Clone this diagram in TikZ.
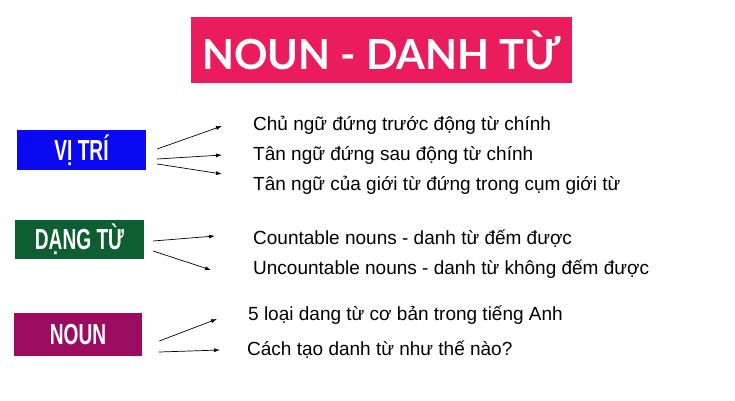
\documentclass[tikz,border=0pt]{standalone}
\usepackage{fontspec}
\setmainfont{Liberation Sans}
\newfontfamily\titlefont{Lato}
\newfontfamily\boxfont{Liberation Sans}
\usetikzlibrary{arrows.meta,calc}
\definecolor{titlepink}{HTML}{EB1C5E}
\definecolor{vtblue}{HTML}{0A0AF2}
\definecolor{dtgreen}{HTML}{0D5E30}
\definecolor{nounmag}{HTML}{9B0C60}
\begin{document}
\begin{tikzpicture}[x=1pt,y=-1pt,
  catbox/.style={draw=none,minimum width=129pt,minimum height=40pt,inner sep=0pt,text=white,
    font=\boxfont\bfseries\fontsize{29}{29}\selectfont},
  item/.style={anchor=west,inner sep=0pt,font=\fontsize{19}{20}\selectfont,text=black},
  arr/.style={-{Latex[length=6pt,width=4pt]},line width=0.7pt,black}]
\useasboundingbox[fill=white] (0,0) rectangle (735,400);
% title
\node[fill=titlepink,minimum width=381pt,minimum height=66pt,inner sep=0pt,text=white,
  font=\titlefont\bfseries\fontsize{41.5}{42}\selectfont] (title) at (381.5,50) {NOUN - DANH TỪ};
% category boxes
\node[catbox,fill=vtblue] (vitri) at (81.5,150) {\scalebox{0.66}[1]{VỊ TRÍ}};
\node[catbox,fill=dtgreen,minimum height=39pt] (dangtu) at (79.5,239.5) {\scalebox{0.66}[1]{DẠNG TỪ}};
\node[catbox,fill=nounmag,minimum width=128pt,minimum height=43pt] (noun) at (78,334.5) {\scalebox{0.66}[1]{NOUN}};
% items
\node[item] (t1) at (253,125) {Chủ ngữ đứng trước động từ chính};
\node[item] (t2) at (253,155) {Tân ngữ đứng sau động từ chính};
\node[item] (t3) at (253,185) {Tân ngữ của giới từ đứng trong cụm giới từ};
\node[item] (t4) at (253,239) {Countable nouns - danh từ đếm được};
\node[item] (t5) at (253,269) {Uncountable nouns - danh từ không đếm được};
\node[item] (t6) at (248,315) {5 loại dang từ cơ bản trong tiếng Anh};
\node[item] (t7) at (247,350) {Cách tạo danh từ như thế nào?};
% arrows
\draw[arr] ([shift={(11,-1)}]vitri.east) -- ([shift={(-31,1)}]t1.west);
\draw[arr] ([shift={(11,9)}]vitri.east) -- ([shift={(-31,0)}]t2.west);
\draw[arr] ([shift={(11,14)}]vitri.east) -- ([shift={(-31,-11)}]t3.west);
\draw[arr] ([shift={(9,1.5)}]dangtu.east) -- ([shift={(-38,-3)}]t4.west);
\draw[arr] ([shift={(9,11.5)}]dangtu.east) -- ([shift={(-42,1)}]t5.west);
\draw[arr] ([shift={(17,6.5)}]noun.east) -- ([shift={(-31,4)}]t6.west);
\draw[arr] ([shift={(17,17.5)}]noun.east) -- ([shift={(-27,0)}]t7.west);
\end{tikzpicture}
\end{document}
